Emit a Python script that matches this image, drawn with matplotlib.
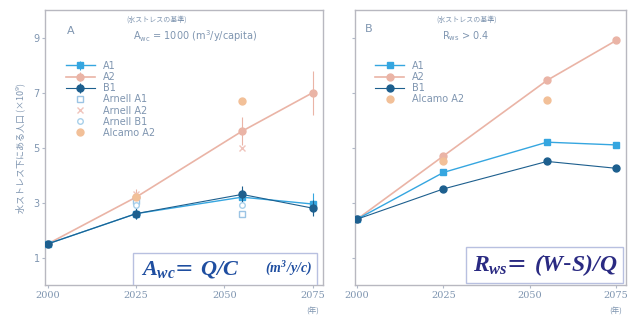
import matplotlib
matplotlib.use("Agg")
import matplotlib.pyplot as plt
from matplotlib.patches import Rectangle

plt.rcParams['font.family'] = ['DejaVu Sans', 'Noto Sans CJK JP']
plt.rcParams['mathtext.fontset'] = 'custom'
plt.rcParams['mathtext.it'] = 'Liberation Serif:italic:bold'
plt.rcParams['mathtext.rm'] = 'Liberation Serif:italic:bold'
plt.rcParams['mathtext.sf'] = 'DejaVu Sans'

years = [2000, 2025, 2055, 2075]

# panel A (Awc = 1000 m3/y/capita), people in water stress (x10^9)
a1_left = [1.5, 2.6, 3.2, 2.95]
a2_left = [1.5, 3.2, 5.6, 7.0]
b1_left = [1.5, 2.6, 3.3, 2.8]
a1_left_err = [0.1, 0.2, 0.3, 0.4]
a2_left_err = [0.1, 0.3, 0.5, 0.8]
b1_left_err = [0.1, 0.2, 0.3, 0.3]
ref_years = [2025, 2055]
arnell_a1 = [3.05, 2.6]
arnell_a2 = [3.3, 5.0]
arnell_b1 = [2.9, 2.9]
alcamo_years = [2025, 2055]
alcamo_a2_left = [3.2, 6.7]

# panel B (Rws > 0.4)
a1_right = [2.4, 4.1, 5.2, 5.1]
a2_right = [2.4, 4.7, 7.45, 8.9]
b1_right = [2.4, 3.5, 4.5, 4.25]
alcamo_a2_right = [4.5, 6.75]

yticks = [1, 3, 5, 7, 9]
xticks = [2000, 2025, 2050, 2075]

c_a1 = '#35a6e0'
c_a2 = '#eab4a6'
c_b1 = '#1d5f8e'
c_alc = '#f2c098'
c_txt = '#7f95b0'

fig = plt.figure(figsize=(6.29, 3.2), dpi=100)
axl = fig.add_axes([0.072, 0.109, 0.442, 0.859])
axr = fig.add_axes([0.564, 0.109, 0.432, 0.859])

def style(ax):
    ax.set_xlim(1999.3, 2078)
    ax.set_ylim(0, 10)
    ax.set_xticks(xticks)
    ax.set_yticks(yticks)
    for s in ax.spines.values():
        s.set_color('#b8b8c0')
        s.set_linewidth(1.0)
    ax.tick_params(colors='#b0b8c8', labelcolor=c_txt, labelsize=7, length=2, pad=2)
    ax.set_xticklabels([str(x) for x in xticks], family='DejaVu Serif')
    ax.text(2075, -0.95, '(年)', ha='center', va='center', fontsize=5.5,
            color=c_txt, family=['Noto Sans CJK JP'])

def legend(ax, keys):
    h, l = ax.get_legend_handles_labels()
    order = [l.index(k) for k in keys]
    leg = ax.legend([h[i] for i in order], [l[i] for i in order], loc='upper left',
                    bbox_to_anchor=(0.06, 0.83), frameon=False, fontsize=7,
                    handlelength=3.0, labelspacing=0.12, borderaxespad=0)
    for t in leg.get_texts():
        t.set_color(c_txt)

# left panel
axl.errorbar(years, a2_left, yerr=a2_left_err, color=c_a2, marker='o', ms=5,
             lw=1.2, capsize=0, elinewidth=0.8, label='A2', zorder=3)
axl.errorbar(years, a1_left, yerr=a1_left_err, color=c_a1, marker='s', ms=4,
             lw=1.0, capsize=0, elinewidth=0.8, label='A1', zorder=4)
axl.errorbar(years, b1_left, yerr=b1_left_err, color=c_b1, marker='o', ms=5,
             lw=0.8, capsize=0, elinewidth=0.8, label='B1', zorder=5)
axl.plot(ref_years, arnell_a1, ls='none', marker='s', ms=5, mfc='white',
         mec='#9cc4e4', label='Arnell A1', zorder=6)
axl.plot(ref_years, arnell_a2, ls='none', marker='x', ms=4, color='#f0c4bc',
         label='Arnell A2', zorder=6)
axl.plot(ref_years, arnell_b1, ls='none', marker='o', ms=4, mfc='white',
         mec='#a8d0ea', label='Arnell B1', zorder=6)
axl.plot(alcamo_years, alcamo_a2_left, ls='none', marker='o', ms=5,
         color=c_alc, label='Alcamo A2', zorder=6)
style(axl)
legend(axl, ['A1', 'A2', 'B1', 'Arnell A1', 'Arnell A2', 'Arnell B1', 'Alcamo A2'])
axl.text(0.09, 0.925, 'A', transform=axl.transAxes, fontsize=8, color=c_txt,
         ha='center', va='center')
axl.text(0.40, 0.965, '(水ストレスの基準)', transform=axl.transAxes, fontsize=5,
         color=c_txt, ha='center', va='center', family=['Noto Sans CJK JP'])
axl.text(0.54, 0.905, r'A$\mathsf{_{wc}}$ = 1000 (m$\mathsf{^3}$/y/capita)',
         transform=axl.transAxes, fontsize=7, color=c_txt, ha='center', va='center')
axl.set_ylabel('水ストレス下にある人口 (×10$\\mathsf{^9}$)', fontsize=6.5, color=c_txt,
               family=['Noto Sans CJK JP'], labelpad=4)
axl.add_patch(Rectangle((0.317, 0.0), 0.66, 0.116, transform=axl.transAxes,
                        fc='white', ec='#b8c0e0', lw=1, zorder=9))
axl.text(0.345, 0.058, r'$A_{wc}$= $Q/C$', transform=axl.transAxes,
         fontsize=16, color='#1f4ea0', ha='left', va='center', zorder=10)
axl.text(0.96, 0.058, r'$(m^3/y/c)$', transform=axl.transAxes, fontsize=10,
         color='#1f4ea0', ha='right', va='center', zorder=10)

# right panel
axr.plot(years, a2_right, color=c_a2, marker='o', ms=5, lw=1.2, label='A2', zorder=3)
axr.plot(years, a1_right, color=c_a1, marker='s', ms=4, lw=1.0, label='A1', zorder=4)
axr.plot(years, b1_right, color=c_b1, marker='o', ms=5, lw=0.8, label='B1', zorder=5)
axr.plot(alcamo_years, alcamo_a2_right, ls='none', marker='o', ms=5,
         color=c_alc, label='Alcamo A2', zorder=6)
style(axr)
axr.set_yticklabels([])
legend(axr, ['A1', 'A2', 'B1', 'Alcamo A2'])
axr.text(0.05, 0.93, 'B', transform=axr.transAxes, fontsize=8, color=c_txt,
         ha='center', va='center')
axr.text(0.41, 0.965, '(水ストレスの基準)', transform=axr.transAxes, fontsize=5,
         color=c_txt, ha='center', va='center', family=['Noto Sans CJK JP'])
axr.text(0.41, 0.905, r'R$\mathsf{_{ws}}$ > 0.4', transform=axr.transAxes,
         fontsize=7, color=c_txt, ha='center', va='center')
axr.add_patch(Rectangle((0.41, 0.007), 0.577, 0.13, transform=axr.transAxes,
                        fc='white', ec='#b8c0e0', lw=1, zorder=9))
axr.text(0.70, 0.072, r'$R_{ws}$= $(W$-$S)/Q$', transform=axr.transAxes,
         fontsize=17, color='#2a2a82', ha='center', va='center', zorder=10)

fig.savefig('out.png', dpi=100, facecolor='white')
